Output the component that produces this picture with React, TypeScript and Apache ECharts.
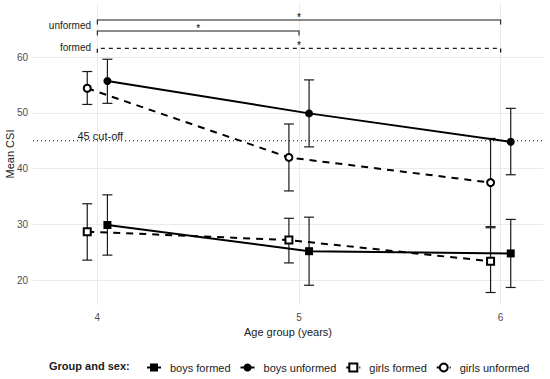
import React, { useEffect, useRef } from 'react';
import * as echarts from 'echarts';

const ageGroups = [4, 5, 6];
const xTicks = [4, 5, 6];
const yTicks = [20, 30, 40, 50, 60];
const seriesNames = ['boys formed', 'boys unformed', 'girls formed', 'girls unformed'];

const boysFormedMean = [29.9, 25.2, 24.8];
const boysFormedLow = [24.5, 19.1, 18.7];
const boysFormedHigh = [35.3, 31.3, 30.9];

const boysUnformedMean = [55.7, 49.9, 44.8];
const boysUnformedLow = [51.7, 43.9, 38.9];
const boysUnformedHigh = [59.6, 55.9, 50.8];

const girlsFormedMean = [28.7, 27.2, 23.4];
const girlsFormedLow = [23.6, 23.1, 17.8];
const girlsFormedHigh = [33.7, 31.1, 29.4];

const girlsUnformedMean = [54.4, 42.0, 37.5];
const girlsUnformedLow = [51.5, 36.0, 29.6];
const girlsUnformedHigh = [57.4, 48.0, 45.4];

const cutoffValue = 45;
const cutoffLabel = '45 cut-off';

const bracketFrom = [4, 4, 4];
const bracketTo = [6, 5, 6];
const bracketLevel = [66.63, 64.66, 61.56];
const bracketDashed = [0, 0, 1];
const bracketMark = ['*', '*', '*'];

const groupLabels = ['unformed', 'formed'];
const groupLabelLevel = [65.6, 61.65];

const FONT = '"Liberation Sans", Arial, Helvetica, sans-serif';
const BOY_OFFSET = 0.05;
const GIRL_OFFSET = -0.05;

function points(mean: number[], offset: number) {
  return ageGroups.map((a, i) => [a + offset, mean[i]]);
}
function bars(low: number[], high: number[], offset: number) {
  return ageGroups.map((a, i) => [a + offset, low[i], high[i]]);
}

const errorRender = (params: any, api: any) => {
  const x = api.value(0);
  const lo = api.coord([x, api.value(1)]);
  const hi = api.coord([x, api.value(2)]);
  const w = 5;
  const style = { stroke: '#1a1a1a', lineWidth: 1.2 };
  return {
    type: 'group',
    children: [
      { type: 'line', shape: { x1: lo[0], y1: lo[1], x2: hi[0], y2: hi[1] }, style },
      { type: 'line', shape: { x1: lo[0] - w, y1: lo[1], x2: lo[0] + w, y2: lo[1] }, style },
      { type: 'line', shape: { x1: hi[0] - w, y1: hi[1], x2: hi[0] + w, y2: hi[1] }, style },
    ],
  };
};

function errorSeries(low: number[], high: number[], offset: number) {
  return {
    type: 'custom',
    renderItem: errorRender,
    data: bars(low, high, offset),
    encode: { x: 0, y: [1, 2] },
    z: 2,
    silent: true,
  };
}

export default function App() {
  const ref = useRef<HTMLDivElement>(null);
  useEffect(() => {
    if (!ref.current) return;
    const chart = echarts.init(ref.current, undefined, { renderer: 'svg' });
    const lineSeries = (name: string, mean: number[], offset: number, symbol: string, dashed: boolean) => ({
      name,
      type: 'line',
      data: points(mean, offset),
      symbol,
      symbolSize: dashed ? 7 : 8,
      lineStyle: { color: '#000', width: 2, type: dashed ? [7, 6] : 'solid' },
      itemStyle: { color: '#000', borderWidth: dashed ? 1 : 0 },
      z: 3,
      silent: true,
    });

    const option: any = {
      animation: false,
      backgroundColor: '#fff',
      textStyle: { fontFamily: FONT },
      grid: { left: 33, right: 7, top: 3, bottom: 74, containLabel: false, outerBoundsMode: 'none' },
      xAxis: {
        type: 'value',
        min: 3.681,
        max: 6.21,
        name: 'Age group (years)',
        nameLocation: 'middle',
        nameGap: 21,
        nameMoveOverlap: false,
        nameTextStyle: { fontSize: 11, color: '#1a1a1a', fontFamily: FONT },
        axisLine: { show: false },
        axisTick: { show: false, customValues: xTicks },
        axisLabel: { customValues: xTicks, color: '#4D4D4D', fontSize: 10, margin: 7, fontFamily: FONT },
        splitLine: { show: true, lineStyle: { color: '#EBEBEB', width: 1 } },
      },
      yAxis: {
        type: 'value',
        min: 15.56,
        max: 69.68,
        name: 'Mean CSI',
        nameLocation: 'middle',
        nameGap: 18,
        nameMoveOverlap: false,
        nameTextStyle: { fontSize: 11, color: '#1a1a1a', fontFamily: FONT },
        axisLine: { show: false },
        axisTick: { show: false, customValues: yTicks },
        axisLabel: { customValues: yTicks, color: '#4D4D4D', fontSize: 10, margin: 5, fontFamily: FONT },
        splitLine: { show: true, lineStyle: { color: '#EBEBEB', width: 1 } },
      },
      legend: {
        data: seriesNames,
        left: 141,
        top: 357,
        itemWidth: 14,
        itemHeight: 10,
        itemGap: 9,
        textStyle: { fontSize: 11, color: '#1a1a1a', fontFamily: FONT, padding: [0, 0, 0, 4] },
      },
      graphic: [
        {
          type: 'text',
          left: 49,
          top: 360,
          style: { text: 'Group and sex:', fontSize: 11, fontWeight: 'bold', fill: '#1a1a1a', fontFamily: FONT },
        },
      ],
      series: [
        errorSeries(boysFormedLow, boysFormedHigh, BOY_OFFSET),
        errorSeries(boysUnformedLow, boysUnformedHigh, BOY_OFFSET),
        errorSeries(girlsFormedLow, girlsFormedHigh, GIRL_OFFSET),
        errorSeries(girlsUnformedLow, girlsUnformedHigh, GIRL_OFFSET),
        lineSeries('boys formed', boysFormedMean, BOY_OFFSET, 'rect', false),
        lineSeries('boys unformed', boysUnformedMean, BOY_OFFSET, 'circle', false),
        lineSeries('girls formed', girlsFormedMean, GIRL_OFFSET, 'emptyRect', true),
        lineSeries('girls unformed', girlsUnformedMean, GIRL_OFFSET, 'emptyCircle', true),
        {
          type: 'custom',
          silent: true,
          z: 1,
          data: [[4, cutoffValue]],
          renderItem: (params: any, api: any) => {
            const cs = params.coordSys;
            const p = api.coord([api.value(0), api.value(1)]);
            return {
              type: 'group',
              children: [
                {
                  type: 'line',
                  shape: { x1: cs.x, y1: p[1], x2: cs.x + cs.width, y2: p[1] },
                  style: { stroke: '#000', lineWidth: 1.1, lineDash: [1, 3] },
                },
                {
                  type: 'text',
                  x: p[0] + 3,
                  y: p[1] - 5,
                  style: {
                    text: cutoffLabel,
                    fontSize: 11,
                    fill: '#1a1a1a',
                    fontFamily: FONT,
                    align: 'center',
                    verticalAlign: 'middle',
                  },
                },
              ],
            };
          },
        },
        {
          type: 'custom',
          silent: true,
          z: 4,
          data: bracketFrom.map((f, i) => [f, bracketLevel[i], bracketTo[i], bracketDashed[i], i]),
          renderItem: (params: any, api: any) => {
            const i = params.dataIndex;
            const p1 = api.coord([api.value(0), api.value(1)]);
            const p2 = api.coord([api.value(2), api.value(1)]);
            const drop = 4.5;
            const dashed = api.value(3) === 1;
            return {
              type: 'group',
              children: [
                {
                  type: 'polyline',
                  shape: {
                    points: [
                      [p1[0], p1[1] + drop],
                      [p1[0], p1[1]],
                      [p2[0], p2[1]],
                      [p2[0], p2[1] + drop],
                    ],
                  },
                  style: {
                    stroke: '#1a1a1a',
                    fill: 'none',
                    lineWidth: dashed ? 1.3 : 1.1,
                    lineDash: dashed ? [4, 4] : null,
                  },
                },
                {
                  type: 'text',
                  x: (p1[0] + p2[0]) / 2,
                  y: p1[1] + 2,
                  style: {
                    text: bracketMark[i],
                    fontSize: 10,
                    fill: '#000',
                    fontFamily: FONT,
                    align: 'center',
                    verticalAlign: 'bottom',
                  },
                },
              ],
            };
          },
        },
        {
          type: 'custom',
          silent: true,
          z: 4,
          data: groupLabels.map((t, i) => [3.969, groupLabelLevel[i], i]),
          renderItem: (params: any, api: any) => {
            const p = api.coord([api.value(0), api.value(1)]);
            return {
              type: 'text',
              x: p[0],
              y: p[1],
              style: {
                text: groupLabels[params.dataIndex],
                fontSize: 10,
                fill: '#1a1a1a',
                fontFamily: FONT,
                align: 'right',
                verticalAlign: 'middle',
              },
            };
          },
        },
      ],
    };
    chart.setOption(option);
    return () => chart.dispose();
  }, []);
  return (
    <div
      ref={ref}
      style={{ position: 'absolute', left: 0, top: 0, width: 550, height: 379 }}
    />
  );
}
